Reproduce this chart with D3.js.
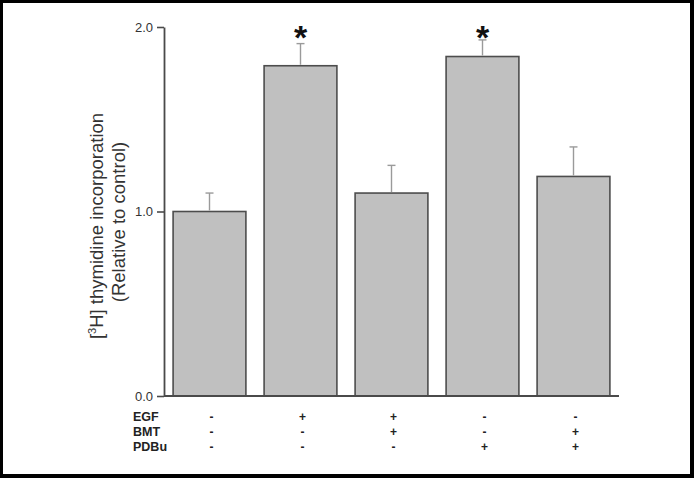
<!DOCTYPE html>
<html>
<head>
<meta charset="utf-8">
<script src="https://cdn.jsdelivr.net/npm/d3@7"></script>
<style>
  html, body { margin: 0; padding: 0; background: #000; }
  svg { display: block; }
</style>
</head>
<body>
<script>
// bar groups and values (relative to control)
var groups = ["Control", "EGF", "EGF+BMT", "PDBu", "PDBu+BMT"];
var means = [1.00, 1.79, 1.10, 1.84, 1.19];
var sems = [0.10, 0.12, 0.15, 0.09, 0.16];
var starred = [false, true, false, true, false];

// treatment table under the bars
var rowLabels = ["EGF", "BMT", "PDBu"];
var egfRow = ["-", "+", "+", "-", "-"];
var bmtRow = ["-", "-", "+", "-", "+"];
var pdbuRow = ["-", "-", "-", "+", "+"];
var tableRows = [egfRow, bmtRow, pdbuRow];

var yTicks = [0, 1, 2];

var W = 694, H = 478;
var font = "Liberation Sans, Arial, sans-serif";
var svg = d3.select("body").append("svg")
    .attr("width", W)
    .attr("height", H);

// black frame + white page
svg.append("rect").attr("x", 0).attr("y", 0).attr("width", W).attr("height", H).attr("fill", "#000");
svg.append("rect").attr("x", 3).attr("y", 3).attr("width", W - 7).attr("height", H - 7).attr("fill", "#fff");

var x0 = 164, x1 = 619, yTop = 27, yBot = 396;

var x = d3.scaleBand()
    .domain(d3.range(groups.length))
    .range([x0, x1])
    .paddingInner(0.2)
    .paddingOuter(0.1);

var y = d3.scaleLinear()
    .domain([0, 2])
    .range([yBot, yTop]);

function cx(i) { return x(i) + x.bandwidth() / 2; }

var g = svg.append("g");

// bars
g.selectAll("rect.bar")
    .data(means)
    .enter().append("rect")
    .attr("class", "bar")
    .attr("x", function(d, i) { return x(i); })
    .attr("y", function(d) { return y(d); })
    .attr("width", x.bandwidth())
    .attr("height", function(d) { return y(0) - y(d); })
    .attr("fill", "#c0c0c0")
    .attr("stroke", "#4d4d4d")
    .attr("stroke-width", 1.6);

// error bars (upper only)
var eb = g.selectAll("g.err")
    .data(means)
    .enter().append("g")
    .attr("class", "err")
    .attr("stroke", "#9a9a9a")
    .attr("stroke-width", 1.4);
eb.append("line")
    .attr("x1", function(d, i) { return cx(i); })
    .attr("x2", function(d, i) { return cx(i); })
    .attr("y1", function(d) { return y(d) - 1; })
    .attr("y2", function(d, i) { return y(d + sems[i]); });
eb.append("line")
    .attr("x1", function(d, i) { return cx(i) - 4; })
    .attr("x2", function(d, i) { return cx(i) + 4; })
    .attr("y1", function(d, i) { return y(d + sems[i]); })
    .attr("y2", function(d, i) { return y(d + sems[i]); });

// significance stars
groups.forEach(function(name, i) {
    if (!starred[i]) return;
    g.append("text")
        .attr("x", cx(i))
        .attr("y", 49)
        .attr("text-anchor", "middle")
        .style("font-family", font)
        .style("font-weight", "bold")
        .style("font-size", "34px")
        .attr("fill", "#111")
        .text("*");
});

// y axis
var yAxis = d3.axisLeft(y)
    .tickValues(yTicks)
    .tickFormat(d3.format(".1f"))
    .tickSize(7)
    .tickSizeOuter(0)
    .tickPadding(4);
var ya = svg.append("g")
    .attr("transform", "translate(" + x0 + ",0)")
    .call(yAxis);
ya.select(".domain").attr("stroke", "#4a4a4a").attr("stroke-width", 1.8);
ya.selectAll(".tick line").attr("stroke", "#4a4a4a").attr("stroke-width", 1.6);
ya.selectAll(".tick text")
    .attr("fill", "#333")
    .style("font-family", font)
    .style("font-size", "13px");

// x axis line
svg.append("line")
    .attr("x1", x0).attr("x2", x1)
    .attr("y1", yBot).attr("y2", yBot)
    .attr("stroke", "#4a4a4a")
    .attr("stroke-width", 1.8);

// y axis title (two lines)
var title = svg.append("text")
    .attr("transform", "translate(103,226) rotate(-90)")
    .attr("text-anchor", "middle")
    .attr("fill", "#333")
    .style("font-family", font)
    .style("font-size", "18.5px");
title.append("tspan").text("[");
title.append("tspan").attr("dy", -7).style("font-size", "11px").text("3");
title.append("tspan").attr("dy", 7).text("H] thymidine incorporation");

svg.append("text")
    .attr("transform", "translate(125,222) rotate(-90)")
    .attr("text-anchor", "middle")
    .attr("fill", "#333")
    .style("font-family", font)
    .style("font-size", "18.5px")
    .text("(Relative to control)");

// treatment table
var rowY = [421, 436, 451];
rowLabels.forEach(function(lab, r) {
    svg.append("text")
        .attr("x", 133)
        .attr("y", rowY[r])
        .attr("fill", "#222")
        .style("font-family", font)
        .style("font-weight", "bold")
        .style("font-size", "12.5px")
        .text(lab);
    svg.selectAll(null)
        .data(tableRows[r])
        .enter().append("text")
        .attr("x", function(d, i) { return cx(i) + 2; })
        .attr("y", rowY[r])
        .attr("text-anchor", "middle")
        .attr("fill", "#222")
        .style("font-family", font)
        .style("font-weight", "bold")
        .style("font-size", "12px")
        .text(function(d) { return d; });
});
</script>
</body>
</html>
